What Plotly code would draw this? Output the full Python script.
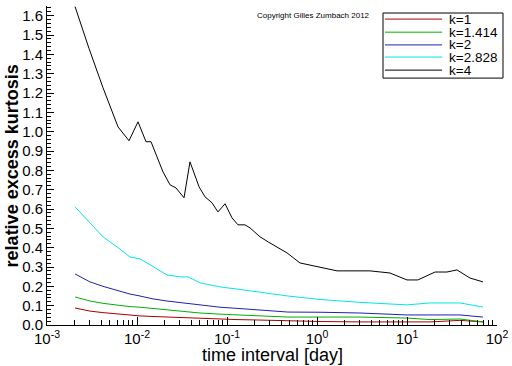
import plotly.graph_objects as go

# time intervals [day]
t_black = [0.00205, 0.00293, 0.00419, 0.00615, 0.00815, 0.01026, 0.0126, 0.01432,
           0.01667, 0.01945, 0.0233, 0.0271, 0.0333, 0.0388, 0.0489, 0.0570,
           0.0681, 0.0794, 0.0951, 0.1137, 0.1325, 0.1585, 0.1805, 0.233,
           0.286, 0.378, 0.464, 0.647, 0.903, 1.67, 3.88, 6.47, 10.0, 13.2,
           20.5, 27.8, 35.9, 50.1, 69.8]
k4 = [1.647, 1.43, 1.227, 1.025, 0.953, 1.051, 0.948, 0.948, 0.870, 0.792,
      0.725, 0.709, 0.658, 0.844, 0.715, 0.663, 0.632, 0.585, 0.627, 0.554,
      0.518, 0.518, 0.502, 0.456, 0.430, 0.399, 0.373, 0.321, 0.306, 0.280,
      0.280, 0.269, 0.233, 0.233, 0.274, 0.274, 0.285, 0.243, 0.223]

t_smooth = [0.00205, 0.0030, 0.00419, 0.0060, 0.00836, 0.0108, 0.01506, 0.02154,
            0.0300, 0.0369, 0.0501, 0.0836, 0.129, 0.215, 0.476, 1.08, 3.0,
            10.0, 18.0, 38.8, 69.8]
k2828 = [0.611, 0.528, 0.456, 0.404, 0.352, 0.342, 0.300, 0.259, 0.249, 0.249,
         0.218, 0.197, 0.186, 0.171, 0.150, 0.132, 0.117, 0.104, 0.114, 0.114, 0.093]
k2 = [0.264, 0.223, 0.200, 0.178, 0.160, 0.150, 0.135, 0.124, 0.116, 0.112,
      0.107, 0.092, 0.086, 0.080, 0.067, 0.066, 0.062, 0.052, 0.052, 0.052, 0.041]
k1414 = [0.145, 0.124, 0.112, 0.102, 0.095, 0.092, 0.085, 0.077, 0.072, 0.068,
         0.062, 0.056, 0.052, 0.047, 0.041, 0.041, 0.041, 0.036, 0.028, 0.031, 0.016]
k1 = [0.088, 0.072, 0.064, 0.057, 0.050, 0.047, 0.044, 0.041, 0.039, 0.036,
      0.034, 0.031, 0.028, 0.026, 0.021, 0.018, 0.016, 0.016, 0.016, 0.024, 0.016]

names = ["k=1", "k=1.414", "k=2", "k=2.828", "k=4"]
colors = ["#a80000", "#00b000", "#2020b0", "#00e6e6", "#000000"]

x_tickvals = [0.001, 0.01, 0.1, 1, 10, 100]
x_ticktext = ["10<sup>-3</sup>", "10<sup>-2</sup>", "10<sup>-1</sup>",
              "10<sup>0</sup>", "10<sup>1</sup>", "10<sup>2</sup>"]
y_tickvals = [i / 10 for i in range(17)]
y_ticktext = [f"{v:.1f}" for v in y_tickvals]

font = "Liberation Sans, Arial, sans-serif"

fig = go.Figure()
series = [(t_smooth, k1), (t_smooth, k1414), (t_smooth, k2), (t_smooth, k2828), (t_black, k4)]
for (tx, ty), n, c in zip(series, names, colors):
    fig.add_trace(go.Scatter(x=tx, y=ty, mode="lines", name=n,
                             line=dict(color=c, width=1), showlegend=False))

# custom compact legend (paper coordinates of the plot area)
shapes = [dict(type="rect", xref="paper", yref="paper", x0=0.7467, x1=1.0133,
               y0=0.774, y1=0.978, line=dict(color="black", width=1),
               fillcolor="white", layer="above")]
annotations = []
row_y = [0.959, 0.918, 0.878, 0.840, 0.799]
for n, c, yy in zip(names, colors, row_y):
    shapes.append(dict(type="line", xref="paper", yref="paper", x0=0.751, x1=0.878,
                       y0=yy, y1=yy, line=dict(color=c, width=1), layer="above"))
    annotations.append(dict(text=n, x=0.889, y=yy, xref="paper", yref="paper",
                            xanchor="left", yanchor="middle", showarrow=False,
                            font=dict(size=13.5, family=font)))

annotations += [
    dict(text="Copyright Gilles Zumbach 2012", x=0.462, y=0.969,
         xref="paper", yref="paper", xanchor="left", yanchor="middle",
         showarrow=False, font=dict(size=8, family=font)),
    dict(text="time interval [day]", x=0.5, y=-0.095, xref="paper", yref="paper",
         xanchor="center", yanchor="middle", showarrow=False,
         font=dict(size=18, family=font)),
    dict(text="<b>relative excess kurtosis</b>", x=-0.078, y=0.5, xref="paper", yref="paper",
         xanchor="center", yanchor="middle", showarrow=False, textangle=-90,
         font=dict(size=18, family=font)),
]

fig.update_layout(
    width=512, height=366,
    margin=dict(l=47, r=15, t=6, b=41, autoexpand=False),
    paper_bgcolor="white", plot_bgcolor="white",
    font=dict(family=font, color="black"),
    showlegend=False,
    hovermode=False,
    shapes=shapes,
    annotations=annotations,
)
fig.update_xaxes(type="log", range=[-3, 2], showline=True, linecolor="black",
                 linewidth=1, mirror=False, showgrid=False, zeroline=False,
                 automargin=False,
                 ticks="inside", ticklen=8, tickcolor="black",
                 tickvals=x_tickvals, ticktext=x_ticktext,
                 tickfont=dict(size=15, family=font),
                 minor=dict(ticks="inside", ticklen=5, tickcolor="black",
                            showgrid=False,
                            tickvals=[m * 10 ** e for e in range(-3, 2) for m in range(2, 10)]))
fig.update_yaxes(range=[0, 1.65], showline=True, linecolor="black", linewidth=1,
                 mirror=False, showgrid=False, zeroline=False,
                 automargin=False,
                 ticks="inside", ticklen=7, tickcolor="black",
                 tickvals=y_tickvals, ticktext=y_ticktext,
                 tickfont=dict(size=15, family=font),
                 minor=dict(ticks="inside", ticklen=4, tickcolor="black",
                            dtick=0.02, showgrid=False))

fig.write_html("out.html", config={"displayModeBar": False, "staticPlot": True},
               post_script="document.body.style.margin='0';document.body.style.overflow='hidden';")
